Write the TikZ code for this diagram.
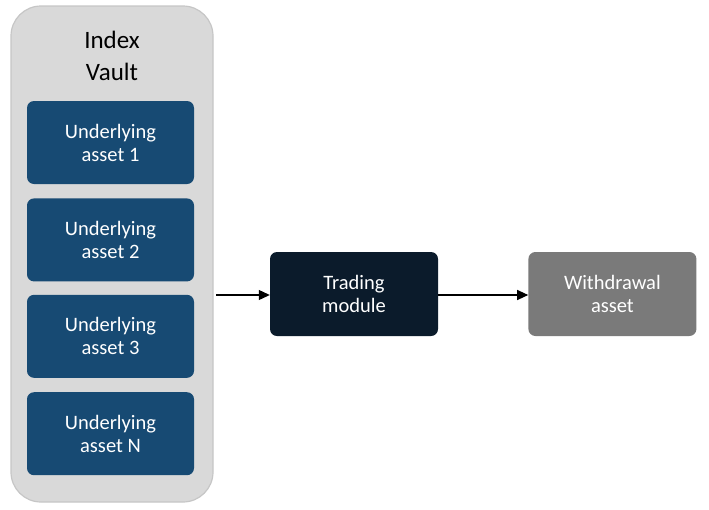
\documentclass[tikz,border=0pt]{standalone}
\usepackage{fontspec}
\setmainfont{Carlito}
\usetikzlibrary{positioning,arrows.meta}
\definecolor{vaultgray}{HTML}{D9D9D9}
\definecolor{vaultline}{HTML}{C6C6C6}
\definecolor{assetblue}{HTML}{174A73}
\definecolor{tradenavy}{HTML}{0B1B2B}
\definecolor{withgray}{HTML}{7A7A7A}

\begin{document}
\begin{tikzpicture}[
    x=1pt, y=-1pt,
    >={Triangle[length=11pt,width=10pt]},
    node distance=14pt,
    vault/.style={draw=vaultline, line width=1.2pt, fill=vaultgray, rounded corners=30pt,
        minimum width=202pt, minimum height=496pt},
    asset/.style={fill=assetblue, rounded corners=7pt, text=white, align=center,
        minimum width=167pt, minimum height=83pt, font=\fontsize{20.5}{23}\selectfont},
    module/.style={rounded corners=7pt, text=white, align=center,
        minimum width=168pt, minimum height=84pt, font=\fontsize{20.5}{23}\selectfont},
    link/.style={->, line width=1.1pt}
]
\useasboundingbox (0,0) rectangle (709,509);

\node[vault] (vault) at (112,254) {};
\node[align=center, font=\fontsize{25}{32}\selectfont] (title) at (112,56) {Index\\Vault};

\node[asset] (a1) at (110.5,142.5) {Underlying\\asset 1};
\node[asset, below=of a1] (a2) {Underlying\\asset 2};
\node[asset, below=13pt of a2] (a3) {Underlying\\asset 3};
\node[asset, below=of a3] (aN) {Underlying\\asset N};

\node[module, fill=tradenavy] (trade) at (354,294) {Trading\\module};
\node[module, fill=withgray, right=90pt of trade] (withdraw) {Withdrawal\\asset};

\coordinate (out) at (216,295);

\draw[link] (out) -- (trade.west |- out);
\draw[link] (trade.east |- out) -- (withdraw.west |- out);

\end{tikzpicture}
\end{document}
